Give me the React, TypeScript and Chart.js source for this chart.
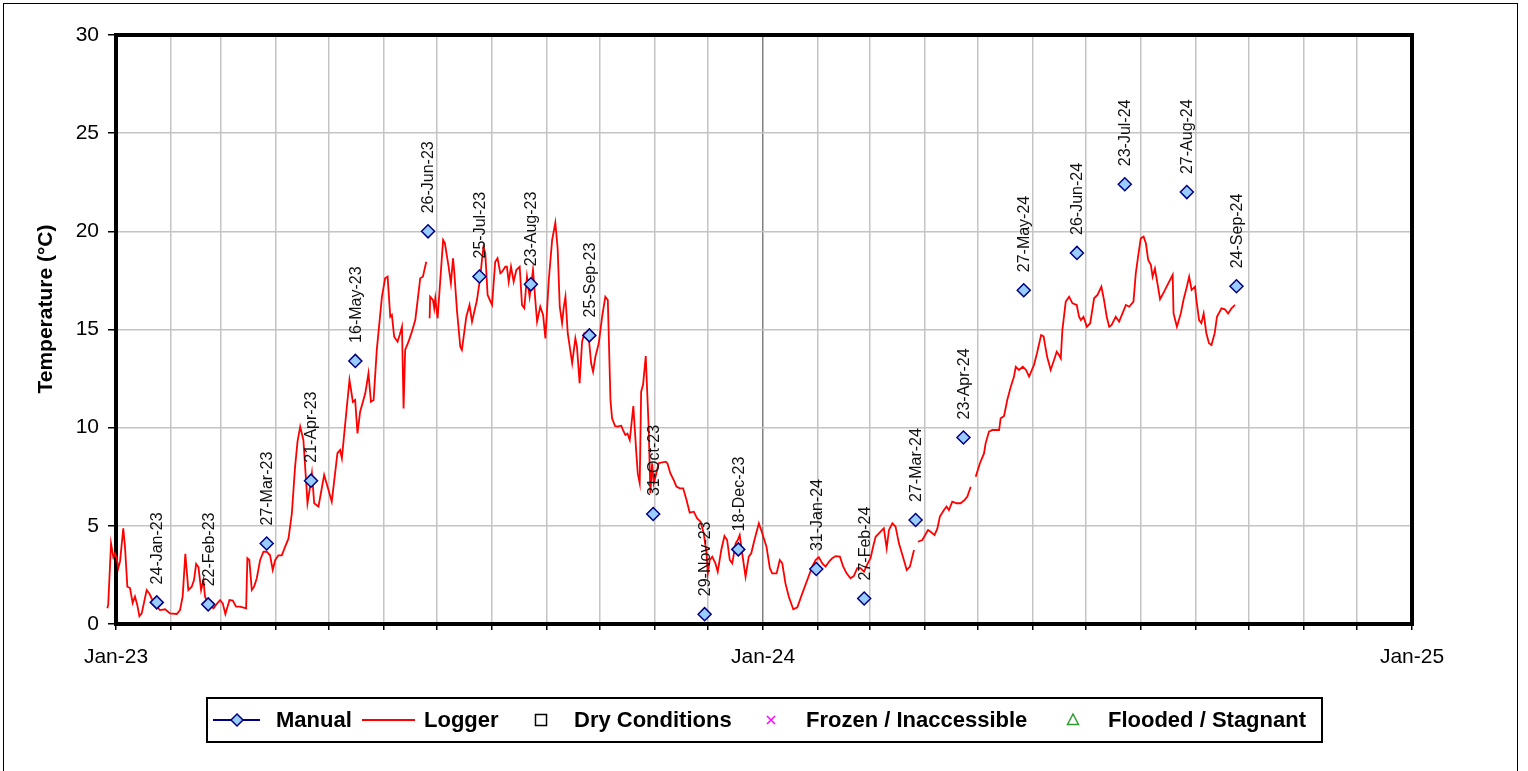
import React, { useEffect, useRef } from "react";
import { Chart, registerables } from "chart.js";

Chart.register(...registerables);

const FONT = '"Liberation Sans", Arial, Helvetica, sans-serif';

// Manual readings: day offset from 1-Jan-2023, temperature (°C), label
const manualLabels = [
  "24-Jan-23", "22-Feb-23", "27-Mar-23", "21-Apr-23", "16-May-23", "26-Jun-23",
  "25-Jul-23", "23-Aug-23", "25-Sep-23", "31-Oct-23", "29-Nov-23", "18-Dec-23",
  "31-Jan-24", "27-Feb-24", "27-Mar-24", "23-Apr-24", "27-May-24", "26-Jun-24",
  "23-Jul-24", "27-Aug-24", "24-Sep-24",
];
const manualDays = [
  23, 52, 85, 110, 135, 176, 205, 234, 267, 303, 332, 351,
  395, 422, 451, 478, 512, 542, 569, 604, 632,
];
const manualTemps = [
  1.1, 1.0, 4.1, 7.3, 13.4, 20.0, 17.7, 17.3, 14.7, 5.6, 0.5, 3.8,
  2.8, 1.3, 5.3, 9.5, 17.0, 18.9, 22.4, 22.0, 17.2,
];

// Logger readings: day offset from 1-Jan-2023 and temperature (null = gap)
const loggerDays = [
  -4.9, -4.4, -2.8, -1.5, -0.6, 0.4, 1.3, 2.3, 4.1, 5.1, 6.4, 7.9, 9.4, 10.7, 12, 13.2, 14.5,
  17.3, 18.8, 20.1, 23, 24.8, 27.7, 30.5, 34.3, 36.1, 37.6, 39.1, 40.8, 42.7, 44, 45.2, 46.5,
  48, 49.3, 50.2, 52.1, 55, 56.8, 58.7, 60.2, 61.7, 64, 65.9, 67.7, 70, 73.4, 74.1, 75.2,
  76.6, 77.9, 79.4, 81.3, 83.2, 85, 86.9, 88.4, 89.8, 91.6, 93.5, 95.4, 97.3, 99.2, 101,
  102.4, 103.9, 105.7, 107.3, 108, 109.5, 110.5, 111.8, 114.2, 117.4, 119.3, 121.7, 124.9,
  126.4, 127.4, 129.3, 131.7, 133.6, 134.9, 136.2, 137.7, 140.6, 142.4, 143.8, 145.3, 147.1,
  150, 151.8, 153.2, 154.7, 155.6, 156.9, 158.8, 160, 161.3, 162.2, 163.1, 165, 166.9, 168.8,
  170.6, 171.6, 173.1, 175, 176,
  176.9, 177.2, 178.8, 179.5, 180.1, 181.4, 184.5, 185.5, 187.6, 188.9, 190.1, 190.8, 192.3,
  194.2, 195.1, 197.6, 199.4, 200.8, 203.6, 205.5, 206.4, 207.3, 208.3, 209.6, 212.1, 213.9,
  215.2, 216.8, 217.8, 219.6, 220.5, 221.5, 222.8, 224.3, 225.8, 227.7, 229, 230.3, 231.8,
  233.3, 235.2, 236.5, 237.5, 239.3, 240.9, 242.2, 244.1, 246, 247.8, 249.1, 250.3, 251.6,
  252.6, 253.5, 254.8, 257.3, 259.1, 260, 261.5, 262.9, 264.2, 266.6, 268, 269.1, 270.4,
  272.3, 274.2, 276, 277.4, 278.9, 279.8, 281.5, 282.6, 285, 286, 287.3, 288.5, 289.8, 291.8,
  293.5, 294.3, 295.4, 296.2, 297.3, 298.8, 300.5, 301.4, 302.4, 303.3, 304.3, 306.1, 310,
  311, 312.7, 314.6, 316.1, 318, 319.9, 321.8, 323.6, 325.9, 327.8, 329.7, 331.5, 333.1,
  333.8, 334.9, 336.3, 338.1, 339.4, 341.4, 343.2, 344.7, 346.2, 347.6, 349.5, 350.7, 351.8,
  353.2, 355.1, 356.9, 358.3, 360.1, 362.6, 364.5, 366.9, 368.8, 370.1, 372.6, 374.4, 375.8,
  377.6, 379.5, 382, 384.3, 387.1, 389.9, 392.7, 394.6, 396.4, 398.4, 400.2, 402.1, 404,
  405.9, 408.3, 410.2, 412.1, 414.3, 416.2, 418.1, 420, 421.9, 423.8, 425.6, 427.2, 428.5,
  430.3, 432.2, 433.1, 434.7, 436, 437.9, 439.7, 441.6, 444.4, 446, 447.8, 450.1, 451,
  452.3, 454.8, 458, 459.5, 461.7, 463.3, 464.7, 467, 468.5, 469.8, 471.7, 474.2, 476.4,
  478.7, 480.2, 482.1, 483.5,
  484.9, 487.3, 489.6, 490.5, 492.4, 494.3, 498.1, 499, 500.9, 502.7, 504.7, 506.5, 507.5,
  509.3, 511.5, 513.3, 515, 517.8, 519.5, 521.8, 523.2, 525.2, 527.2, 529.1, 530.6, 531.9,
  532.9, 533.8, 535.7, 537.6, 539.5, 541.9, 543.2, 544.2, 545.7, 547.6, 549.5, 551.7, 553.6,
  555.8, 557.3, 558.8, 560.2, 561.5, 563.9, 565.8, 567.7, 569.6, 571.5, 573.9, 575.2, 576.5,
  578, 579.6, 580.9, 582.2, 583.7, 584.7, 586, 587.1, 588.9, 591.2, 593.1, 596, 596.5, 598.4,
  600.6, 602.1, 604, 605.3, 606.7, 608.6, 609.4, 610.9, 612.2, 613.5, 615, 616.5, 617.9,
  619.7, 621, 623.5, 625.4, 627.3, 629.2, 631.2,
];
const loggerTemps = [
  0.8, 0.97, 4.1, 3.4, 3.6, 3.35, 2.85, 3.2, 4.87, 3.9, 1.9, 1.83, 1.07, 1.4, 0.97, 0.4, 0.54,
  1.73, 1.56, 1.3, 0.88, 0.71, 0.75, 0.54, 0.51, 0.71, 1.4, 3.57, 1.73, 1.9, 2.24, 3.06, 2.9,
  1.73, 2.24, 1.4, 0.97, 0.8, 1.02, 1.22, 1.05, 0.51, 1.22, 1.19, 0.88, 0.88, 0.8, 3.35, 3.26,
  1.73, 1.9, 2.33, 3.26, 3.68, 3.68, 3.5, 2.75, 3.26, 3.5, 3.5, 3.94, 4.36, 5.64, 8.0,
  9.3, 10.05, 9.37, 7.17, 6.15, 7.0, 7.67, 6.15, 5.98, 7.59, 7.0, 6.23, 8.7,
  8.86, 8.44, 10.22, 12.43, 11.32, 11.41, 9.71, 10.81, 11.75, 12.77, 11.32, 11.41, 13.96,
  16.67, 17.61, 17.69, 15.65, 15.74, 14.63, 14.38, 14.72, 15.14, 10.98, 13.96, 14.38, 14.89, 15.48,
  16.84, 17.61, 17.69, 18.45, null,
  15.57, 16.67, 16.5, 16.08, 16.59, 15.57, 19.56, 19.4, 18.2, 17.35, 18.63, 17.94, 15.99,
  14.12, 13.96, 15.65, 16.25, 15.4, 16.5, 17.69, 18.54, 19.22, 18.88, 16.76, 16.25, 18.45,
  18.63, 17.86, 17.94, 18.2, 18.2, 17.43, 18.2, 17.43, 18.03, 18.2, 16.25, 16.08, 17.69,
  16.67, 18.03, 16.5, 15.4, 16.16, 15.74, 14.55, 17.52, 19.56, 20.44, 19.14, 16.16, 15.32,
  16.16, 16.67, 14.81, 13.28, 14.55, 14.12, 12.26, 14.38, 14.81, 14.63, 13.28, 12.85, 13.61,
  14.3, 15.65, 16.67, 16.5, 11.41, 10.48, 10.08, 10.05, 10.1, 9.88, 9.63, 9.7, 9.37, 11.1,
  8.69, 7.67, 7.17, 11.83, 12.2, 13.65, 9.88, 6.66, 8.19, 7.17, 7.5, 8.19, 8.27,
  8.19, 7.67, 7.33, 7.0, 6.91, 6.91, 6.32, 5.67, 5.72, 5.38, 5.21, 4.62, 3.6,
  2.58, 3.26, 3.43, 3.09, 2.66, 3.77, 4.48, 4.28, 3.26, 3.09, 4.11, 4.28, 4.53,
  3.6, 2.41, 3.43, 3.6, 4.28, 5.13, 4.62, 3.94, 2.84, 2.58, 2.58, 3.26, 3.09,
  2.07, 1.39, 0.75, 0.85, 1.56, 2.24, 2.92, 3.26, 3.4, 3.09, 2.92, 3.17, 3.35,
  3.46, 3.43, 2.92, 2.58, 2.33, 2.45, 2.84, 2.84, 2.66, 3.05, 3.35, 4.0, 4.45,
  4.62, 4.79, 4.87, 3.86, 4.79, 5.13, 4.96, 4.11, 3.26, 2.75, 2.92, 3.77, null,
  4.19, 4.28, 4.79, 4.7, 4.53, 4.87, 5.47, 5.81, 5.98, 5.8, 6.23, 6.15, 6.15,
  6.32, 6.49, 6.99, null,
  7.5, 8.19, 8.69, 9.2, 9.8, 9.88, 9.88, 10.48, 10.6, 11.41, 12.09, 12.6, 13.1,
  12.94, 13.1, 12.94, 12.6, 13.2, 13.8, 14.72, 14.65, 13.61, 12.94, 13.45, 13.87, 13.7,
  13.53, 14.98, 16.42, 16.67, 16.33, 16.25, 15.65, 15.48, 15.65, 15.14, 15.32, 16.59, 16.76,
  17.18, 16.5, 15.65, 15.14, 15.22, 15.65, 15.4, 15.82, 16.25, 16.16, 16.42, 17.86, 18.71,
  19.65, 19.73, 19.39, 18.54, 18.29, 17.69, 18.1, 17.52, 16.54, 16.93, 17.27, 17.78, 15.82, 15.14,
  15.82, 16.5, 17.18, 17.69, 17.01, 17.18, 16.5, 15.48, 15.32, 15.82, 14.81, 14.3, 14.21,
  14.81, 15.65, 16.08, 16.03, 15.82, 16.08, 16.25,
];

// Axis ticks: month starts (days from 1-Jan-2023); only January is labelled
const monthTickDays = [
  0, 31, 59, 90, 120, 151, 181, 212, 243, 273, 304, 334,
  365, 396, 425, 456, 486, 517, 547, 578, 609, 639, 670, 700, 731,
];
const xTickLabelDays = [0, 365, 731];
const xTickLabels = ["Jan-23", "Jan-24", "Jan-25"];
const xRange = [0, 731];
const yRange = [0, 30];

const legendLabels = ["Manual", "Logger", "Dry Conditions", "Frozen / Inaccessible", "Flooded / Stagnant"];
const yAxisTitle = "Temperature (°C)";

const W = 1528;
const H = 771;

export default function App() {
  const ref = useRef<HTMLCanvasElement | null>(null);

  useEffect(() => {
    const canvas = ref.current;
    if (!canvas) return;

    const framePlugin = {
      id: "frame",
      beforeDatasetsDraw(chart: any) {
        const { ctx, chartArea: a } = chart;
        ctx.save();
        ctx.strokeStyle = "#000";
        ctx.lineWidth = 4;
        ctx.strokeRect(a.left, a.top, a.right - a.left, a.bottom - a.top);
        ctx.restore();
      },
    };

    const labelPlugin = {
      id: "manualLabels",
      afterDatasetsDraw(chart: any) {
        const { ctx } = chart;
        const meta = chart.getDatasetMeta(1);
        ctx.save();
        ctx.fillStyle = "#111";
        ctx.font = `16px ${FONT}`;
        ctx.textAlign = "left";
        ctx.textBaseline = "middle";
        meta.data.forEach((pt: any, i: number) => {
          ctx.save();
          ctx.translate(pt.x + 1, pt.y - 18);
          ctx.rotate(-Math.PI / 2);
          ctx.fillText(manualLabels[i], 0, 0);
          ctx.restore();
        });
        ctx.restore();
      },
    };

    const decorPlugin = {
      id: "decor",
      afterDraw(chart: any) {
        const { ctx } = chart;
        ctx.save();
        // outer border
        ctx.strokeStyle = "#000";
        ctx.lineWidth = 1;
        ctx.strokeRect(3.5, 3.5, 1514, 900);

        // y axis title
        ctx.save();
        ctx.translate(46, 309);
        ctx.rotate(-Math.PI / 2);
        ctx.font = `bold 21px ${FONT}`;
        ctx.fillStyle = "#000";
        ctx.textAlign = "center";
        ctx.textBaseline = "middle";
        ctx.fillText(yAxisTitle, 0, 0);
        ctx.restore();

        // legend box
        const ly = 720;
        ctx.lineWidth = 2;
        ctx.strokeStyle = "#000";
        ctx.strokeRect(207, 698, 1115, 44);

        // Manual symbol
        ctx.strokeStyle = "#000080";
        ctx.lineWidth = 2;
        ctx.beginPath();
        ctx.moveTo(213, ly);
        ctx.lineTo(260, ly);
        ctx.stroke();
        ctx.beginPath();
        ctx.moveTo(237, ly - 6);
        ctx.lineTo(243, ly);
        ctx.lineTo(237, ly + 6);
        ctx.lineTo(231, ly);
        ctx.closePath();
        ctx.fillStyle = "#99ccff";
        ctx.fill();
        ctx.lineWidth = 1.5;
        ctx.stroke();

        // Logger symbol
        ctx.strokeStyle = "#ff0000";
        ctx.lineWidth = 2;
        ctx.beginPath();
        ctx.moveTo(362, ly);
        ctx.lineTo(415, ly);
        ctx.stroke();

        // Dry square
        ctx.strokeStyle = "#000";
        ctx.lineWidth = 1.5;
        ctx.strokeRect(535.5, ly - 5.5, 11, 11);

        // Frozen x
        ctx.strokeStyle = "#ff00ff";
        ctx.lineWidth = 1.5;
        ctx.beginPath();
        ctx.moveTo(767, ly - 4);
        ctx.lineTo(775, ly + 4);
        ctx.moveTo(775, ly - 4);
        ctx.lineTo(767, ly + 4);
        ctx.stroke();

        // Flooded triangle
        ctx.strokeStyle = "#2f9a2f";
        ctx.beginPath();
        ctx.moveTo(1073, ly - 6);
        ctx.lineTo(1078.5, ly + 4.5);
        ctx.lineTo(1067.5, ly + 4.5);
        ctx.closePath();
        ctx.stroke();

        // legend texts
        ctx.fillStyle = "#000";
        ctx.font = `bold 22px ${FONT}`;
        ctx.textAlign = "left";
        ctx.textBaseline = "middle";
        const xs = [276, 424, 574, 806, 1108];
        legendLabels.forEach((t, i) => ctx.fillText(t, xs[i], ly + 1));
        ctx.restore();
      },
    };

    const chart = new Chart(canvas, {
      type: "line",
      data: {
        datasets: [
          {
            label: "Logger",
            data: loggerDays.map((d, i) => ({ x: d, y: loggerTemps[i] })) as any,
            borderColor: "#ff0000",
            borderWidth: 1.8,
            pointRadius: 0,
            tension: 0,
            spanGaps: false,
            clip: false as any,
            order: 2,
          },
          {
            label: "Manual",
            data: manualDays.map((d, i) => ({ x: d, y: manualTemps[i] })) as any,
            showLine: false,
            pointStyle: "rectRot",
            pointRadius: 6.5,
            pointBackgroundColor: "#99ccff",
            pointBorderColor: "#000080",
            pointBorderWidth: 1.5,
            order: 1,
          },
        ],
      },
      options: {
        animation: false,
        responsive: false,
        devicePixelRatio: 1,
        layout: { padding: { top: 35, right: 116, left: 0, bottom: 0 } },
        plugins: { legend: { display: false }, tooltip: { enabled: false } },
        scales: {
          x: {
            type: "linear",
            bounds: "data",
            afterDataLimits: (s: any) => {
              s.min = xRange[0];
              s.max = xRange[1];
            },
            afterBuildTicks: (s: any) => {
              s.min = xRange[0];
              s.max = xRange[1];
              s.ticks = monthTickDays.map((v) => ({ value: v }));
            },
            afterFit: (s: any) => {
              s.height = H - 624;
            },
            ticks: {
              autoSkip: false,
              maxRotation: 0,
              padding: 15,
              color: "#000",
              font: { family: FONT, size: 21 },
              callback: (v: any) => {
                const k = xTickLabelDays.indexOf(Number(v));
                return k >= 0 ? xTickLabels[k] : "";
              },
            },
            grid: {
              color: (c: any) => (c.tick && c.tick.value === 365 ? "#808080" : "#c4c4c4"),
              lineWidth: 1.5,
              tickLength: 6,
              tickColor: "#000",
              tickWidth: 1.5,
            } as any,
            border: { display: false },
          },
          y: {
            min: yRange[0],
            max: yRange[1],
            afterFit: (s: any) => {
              s.width = 116;
            },
            ticks: {
              stepSize: 5,
              padding: 9,
              color: "#000",
              font: { family: FONT, size: 21 },
            },
            grid: {
              color: "#c4c4c4",
              lineWidth: 1.5,
              tickLength: 8,
              tickColor: "#000",
              tickWidth: 1.5,
            } as any,
            border: { display: false },
          },
        },
      } as any,
      plugins: [framePlugin, labelPlugin, decorPlugin],
    });

    return () => chart.destroy();
  }, []);

  return (
    <div style={{ position: "fixed", left: 0, top: 0, width: W, height: H, background: "#fff" }}>
      <canvas ref={ref} width={W} height={H} style={{ width: W, height: H, display: "block" }} />
    </div>
  );
}
